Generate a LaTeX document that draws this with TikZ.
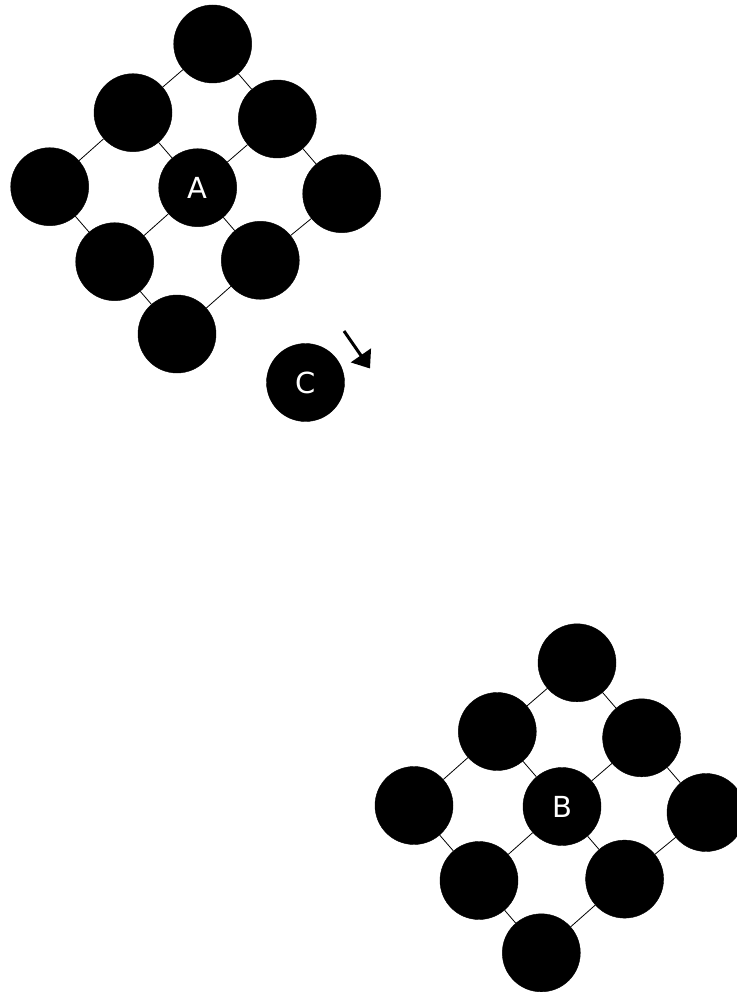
\documentclass[tikz,border=0pt]{standalone}
\usepackage{fontspec}
\usepackage{tikz}
\usetikzlibrary{arrows.meta}
\newfontfamily\ballfont{DejaVu Sans}

\begin{document}
\begin{tikzpicture}[
    x=1pt, y=-1pt,
    ball/.style={circle, fill=black, draw=black, minimum size=78pt,
                 inner sep=0pt, text=white, font=\ballfont\fontsize{29}{29}\selectfont},
    link/.style={draw=black, line width=0.8pt},
    push/.style={-{Triangle[length=16pt, width=24pt]}, line width=3pt},
  ]

  \useasboundingbox (0,0) rectangle (736,992);

  % upper lattice around A
  \node[ball] (atop) at (212.7,44)    {};
  \node[ball] (aul)  at (133,112.7)   {};
  \node[ball] (aur)  at (277.3,119)   {};
  \node[ball] (al)   at (49.7,186.7)  {};
  \node[ball] (acen) at (197.7,187.7) {A};
  \node[ball] (ar)   at (341.7,193.7) {};
  \node[ball] (all)  at (114.7,261.7) {};
  \node[ball] (alr)  at (260.3,260.3) {};
  \node[ball] (abot) at (177,334)     {};

  \draw[link] (atop) -- (aul);
  \draw[link] (atop) -- (aur);
  \draw[link] (aul) -- (al);
  \draw[link] (aul) -- (acen);
  \draw[link] (aur) -- (acen);
  \draw[link] (aur) -- (ar);
  \draw[link] (al) -- (all);
  \draw[link] (acen) -- (all);
  \draw[link] (acen) -- (alr);
  \draw[link] (ar) -- (alr);
  \draw[link] (all) -- (abot);
  \draw[link] (alr) -- (abot);

  % lone ball C and its motion
  \node[ball] (ccen) at (305.5,382.5) {C};
  \coordinate (cfrom) at (344,331);
  \coordinate (cto)   at (370,368.5);
  \draw[push] (cfrom) -- (cto);

  % lower lattice around B
  \node[ball] (btop) at (577,662.8)   {};
  \node[ball] (bul)  at (497.3,731.5) {};
  \node[ball] (bur)  at (641.6,737.8) {};
  \node[ball] (bl)   at (414,805.5)   {};
  \node[ball] (bcen) at (562,806.5)   {B};
  \node[ball] (br)   at (706,812.5)   {};
  \node[ball] (bll)  at (479,880.5)   {};
  \node[ball] (blr)  at (624.6,879.1) {};
  \node[ball] (bbot) at (541.3,952.8) {};

  \draw[link] (btop) -- (bul);
  \draw[link] (btop) -- (bur);
  \draw[link] (bul) -- (bl);
  \draw[link] (bul) -- (bcen);
  \draw[link] (bur) -- (bcen);
  \draw[link] (bur) -- (br);
  \draw[link] (bl) -- (bll);
  \draw[link] (bcen) -- (bll);
  \draw[link] (bcen) -- (blr);
  \draw[link] (br) -- (blr);
  \draw[link] (bll) -- (bbot);
  \draw[link] (blr) -- (bbot);

\end{tikzpicture}
\end{document}
